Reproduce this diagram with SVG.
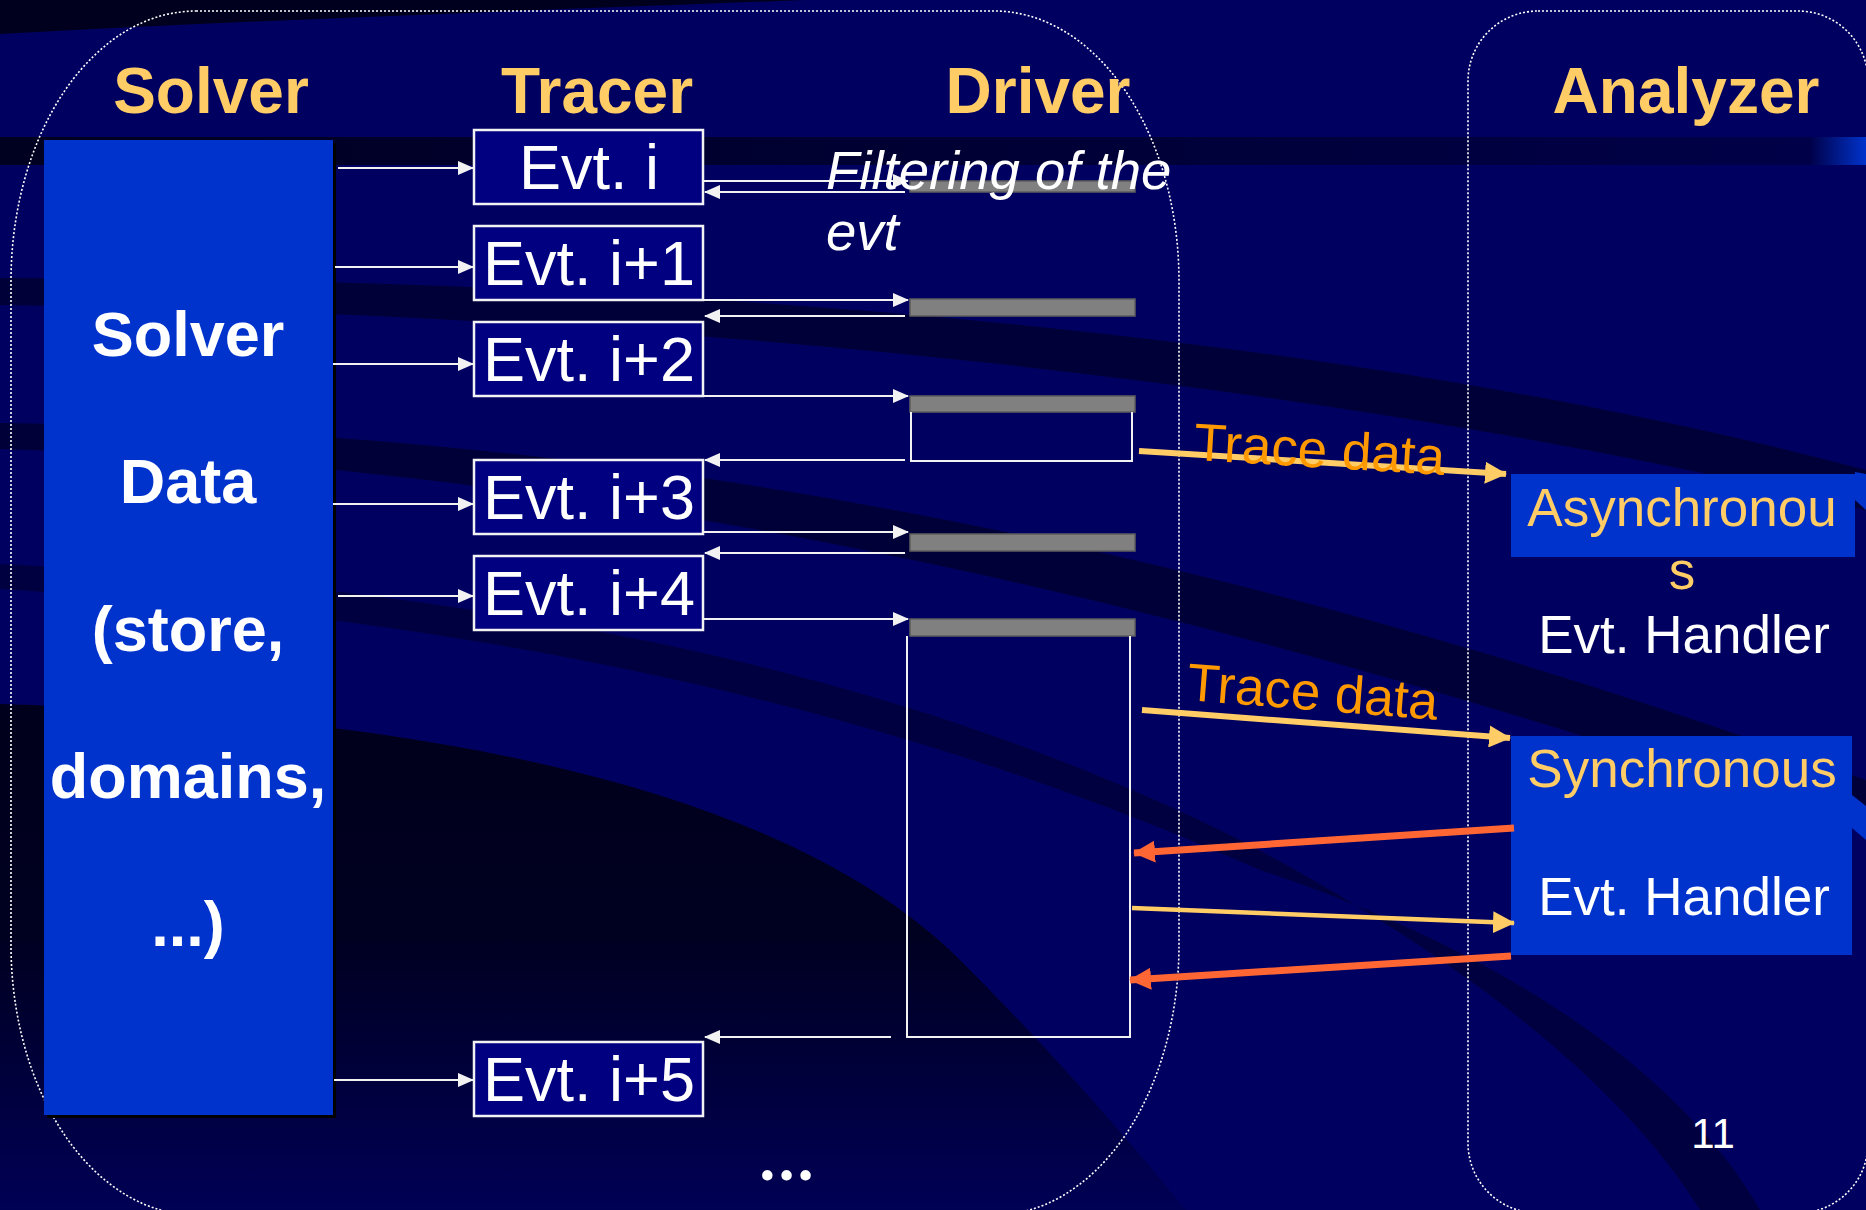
<svg xmlns="http://www.w3.org/2000/svg" width="1866" height="1210" viewBox="0 0 1866 1210">
<defs>
<style>
.title{font-family:"Liberation Sans",Arial,sans-serif;font-weight:bold;font-size:64px;fill:#FFCC66;text-anchor:middle}
.solv{font-family:"Liberation Sans",Arial,sans-serif;font-weight:bold;font-size:63px;fill:#FFFFFF;text-anchor:middle}
.evt{font-family:"Liberation Sans",Arial,sans-serif;font-size:63px;fill:#FFFFFF;text-anchor:middle}
.hgold{font-family:"Liberation Sans",Arial,sans-serif;font-size:53px;fill:#FFCC66;text-anchor:middle}
.hwhite{font-family:"Liberation Sans",Arial,sans-serif;font-size:53px;fill:#FFFFFF;text-anchor:middle}
.trace{font-family:"Liberation Sans",Arial,sans-serif;font-size:53px;fill:#FF9900}
.filt{font-family:"Liberation Sans",Arial,sans-serif;font-style:italic;font-size:54.5px;fill:#FFFFFF}
.evtbox{fill:#000080;stroke:#F2F2F2;stroke-width:2.5}
.bar{fill:#808080;stroke:#5E5E5E;stroke-width:1.5}
.outline{fill:none;stroke:#F2F2F2;stroke-width:2}
.wl{stroke:#F2F2F2;stroke-width:2;fill:none}
.yl{stroke:#FFCC66;fill:none}
.rl{stroke:#FF6633;stroke-width:7;fill:none}
.cont{fill:none;stroke:#FFFFFF;stroke-width:1.6;stroke-dasharray:2 2}
.hbox{fill:#0033CC}
</style>
<marker id="aw" viewBox="0 0 16 14" refX="15" refY="7" markerWidth="16" markerHeight="14" markerUnits="userSpaceOnUse" orient="auto">
<path d="M0,0 L16,7 L0,14 Z" fill="#F2F2F2"/>
</marker>
<marker id="ay" viewBox="0 0 22 22" refX="21" refY="11" markerWidth="22" markerHeight="22" markerUnits="userSpaceOnUse" orient="auto">
<path d="M0,0 L22,11 L0,22 Z" fill="#FFCC66"/>
</marker>
<marker id="ar" viewBox="0 0 22 22" refX="21" refY="11" markerWidth="22" markerHeight="22" markerUnits="userSpaceOnUse" orient="auto">
<path d="M0,0 L22,11 L0,22 Z" fill="#FF6633"/>
</marker>
<linearGradient id="band" x1="0" y1="0" x2="1" y2="0">
<stop offset="0" stop-color="#000020"/>
<stop offset="0.6" stop-color="#000038"/>
<stop offset="0.97" stop-color="#000048"/>
<stop offset="1" stop-color="#0033CC"/>
</linearGradient>
<linearGradient id="dark" x1="0" y1="0" x2="0" y2="1">
<stop offset="0" stop-color="#00001C"/>
<stop offset="0.45" stop-color="#000020"/>
<stop offset="1" stop-color="#000055"/>
</linearGradient>
</defs>

<g id="background">
<rect x="0" y="0" width="1866" height="1210" fill="#000060"/>
<path d="M0,0 L805,0 C600,8 300,18 0,34 Z" fill="#00001E"/>
<rect x="0" y="137" width="1866" height="28" fill="url(#band)"/>
<path d="M0,278 C600,278 1300,320 1866,470 L1866,510 C1300,372 600,312 0,305 Z" fill="#000038"/>
<path d="M0,423 C500,430 1100,500 1866,780 L1866,830 C1100,562 500,462 0,449 Z" fill="#000038"/>
<path d="M0,564 C500,590 900,670 1240,840 C1450,950 1620,1080 1700,1210 L1760,1210 C1680,1070 1500,950 1260,870 C900,710 500,620 0,589 Z" fill="#000040"/>
<path d="M0,704 C400,715 780,780 960,960 C1050,1050 1120,1130 1186,1210 L0,1210 Z" fill="url(#dark)"/>
<path d="M1855,472 L1866,474 L1866,510 L1855,500 Z" fill="#0033CC"/>
<path d="M1852,795 L1866,806 L1866,840 L1852,828 Z" fill="#0033CC"/>
</g>

<g id="containers">
<rect x="11" y="11" width="1168" height="1204" rx="185" ry="270" class="cont"/>
<rect x="1468" y="11" width="400" height="1202" rx="70" ry="70" class="cont" stroke-width="2.2"/>
</g>

<g id="titles">
<text x="211" y="113" class="title">Solver</text>
<text x="597" y="113" class="title">Tracer</text>
<text x="1038" y="113" class="title">Driver</text>
<text x="1686" y="113" class="title">Analyzer</text>
</g>

<g id="solver">
<rect x="47" y="143" width="289" height="975" fill="#000000"/>
<rect x="44" y="140" width="289" height="975" fill="#0033CC"/>
<text x="188" y="356" class="solv">Solver</text>
<text x="188" y="503" class="solv">Data</text>
<text x="188" y="651" class="solv">(store,</text>
<text x="188" y="798" class="solv">domains,</text>
<text x="188" y="946" class="solv">...)</text>
</g>

<g id="evt-i"><rect x="474" y="130" width="229" height="74" class="evtbox"/><text x="589" y="189" class="evt">Evt. i</text></g>
<g id="evt-i1"><rect x="474" y="226" width="229" height="74" class="evtbox"/><text x="589" y="285" class="evt">Evt. i+1</text></g>
<g id="evt-i2"><rect x="474" y="322" width="229" height="74" class="evtbox"/><text x="589" y="381" class="evt">Evt. i+2</text></g>
<g id="evt-i3"><rect x="474" y="460" width="229" height="74" class="evtbox"/><text x="589" y="519" class="evt">Evt. i+3</text></g>
<g id="evt-i4"><rect x="474" y="556" width="229" height="74" class="evtbox"/><text x="589" y="615" class="evt">Evt. i+4</text></g>
<g id="evt-i5"><rect x="474" y="1042" width="229" height="74" class="evtbox"/><text x="589" y="1101" class="evt">Evt. i+5</text></g>

<g id="driver">
<rect x="910" y="181" width="225" height="11" class="bar"/>
<rect x="910" y="299" width="225" height="17" class="bar"/>
<rect x="910" y="396" width="225" height="16" class="bar"/>
<rect x="910" y="534" width="225" height="17" class="bar"/>
<rect x="910" y="619" width="225" height="17" class="bar"/>
<path d="M911,412 L911,461 L1132,461 L1132,412" class="outline"/>
<path d="M907,636 L907,1037 L1130,1037 L1130,636" class="outline"/>
</g>

<g id="async-handler">
<rect x="1511" y="474" width="344" height="83" class="hbox"/>
<text x="1682" y="526" class="hgold">Asynchronou</text>
<text x="1682" y="589" class="hgold">s</text>
<text x="1684" y="653" class="hwhite">Evt. Handler</text>
</g>

<g id="sync-handler">
<rect x="1511" y="736" width="341" height="219" class="hbox"/>
<text x="1682" y="787" class="hgold">Synchronous</text>
<text x="1684" y="915" class="hwhite">Evt. Handler</text>
</g>

<g id="connectors">
<line x1="338" y1="168" x2="473" y2="168" class="wl" marker-end="url(#aw)"/>
<line x1="335" y1="267" x2="473" y2="267" class="wl" marker-end="url(#aw)"/>
<line x1="333" y1="364" x2="473" y2="364" class="wl" marker-end="url(#aw)"/>
<line x1="333" y1="504" x2="473" y2="504" class="wl" marker-end="url(#aw)"/>
<line x1="338" y1="596" x2="473" y2="596" class="wl" marker-end="url(#aw)"/>
<line x1="334" y1="1080" x2="473" y2="1080" class="wl" marker-end="url(#aw)"/>

<line x1="704" y1="181" x2="908" y2="181" class="wl" marker-end="url(#aw)"/>
<line x1="905" y1="192" x2="705" y2="192" class="wl" marker-end="url(#aw)"/>
<line x1="704" y1="300" x2="908" y2="300" class="wl" marker-end="url(#aw)"/>
<line x1="905" y1="316" x2="705" y2="316" class="wl" marker-end="url(#aw)"/>
<line x1="704" y1="396" x2="908" y2="396" class="wl" marker-end="url(#aw)"/>
<line x1="905" y1="460" x2="705" y2="460" class="wl" marker-end="url(#aw)"/>
<line x1="704" y1="532" x2="908" y2="532" class="wl" marker-end="url(#aw)"/>
<line x1="905" y1="553" x2="705" y2="553" class="wl" marker-end="url(#aw)"/>
<line x1="704" y1="619" x2="908" y2="619" class="wl" marker-end="url(#aw)"/>
<line x1="891" y1="1037" x2="705" y2="1037" class="wl" marker-end="url(#aw)"/>

<line x1="1139" y1="451" x2="1506" y2="474" class="yl" stroke-width="6" marker-end="url(#ay)"/>
<line x1="1142" y1="710" x2="1510" y2="738" class="yl" stroke-width="6" marker-end="url(#ay)"/>
<line x1="1514" y1="828" x2="1134" y2="853" class="rl" marker-end="url(#ar)"/>
<line x1="1132" y1="908" x2="1514" y2="923" class="yl" stroke-width="4.5" marker-end="url(#ay)"/>
<line x1="1511" y1="956" x2="1130" y2="980" class="rl" marker-end="url(#ar)"/>
</g>

<g id="labels">
<text x="826" y="189" class="filt">Filtering of the</text>
<text x="826" y="250" class="filt">evt</text>
<text x="1193" y="460" class="trace" transform="rotate(3.4 1193 460)">Trace data</text>
<text x="1186" y="700" class="trace" transform="rotate(4.5 1186 700)">Trace data</text>
<text x="1713" y="1148" font-family="Liberation Sans, Arial, sans-serif" font-size="42" fill="#FFFFFF" text-anchor="middle">11</text>
<text x="788" y="1180" font-family="Lato, 'Liberation Sans', sans-serif" font-weight="bold" font-size="68" fill="#FFFFFF" text-anchor="middle" letter-spacing="3">...</text>
</g>
</svg>
